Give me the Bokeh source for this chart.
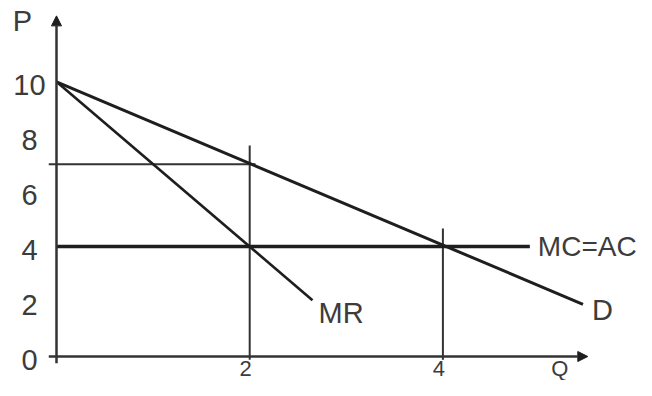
from bokeh.plotting import figure
from bokeh.models import Range1d, Arrow, NormalHead
from bokeh.core.properties import value
from bokeh.embed import file_html
from bokeh.resources import INLINE

# ---- data ----
y_ticks = [0, 2, 4, 6, 8, 10]
y_tick_labels = ["0", "2", "4", "6", "8", "10"]
x_ticks = [2, 4]
x_tick_labels = ["2", "4"]

demand_q = [0, 5.45]
demand_p = [10, 1.9]
mr_q = [0, 2.65]
mr_p = [10, 2.05]
mc_q = [0, 4.9]
mc_p = [4, 4]

monopoly_q = 2
monopoly_p = 7
competitive_q = 4
competitive_p = 4

# guide extents
guide_p7_q = [-0.08, 2.06]
guide_q2_p = [-0.12, 7.68]
guide_q4_p = [-0.12, 4.66]

x_axis_q = [-0.08, 5.5]
y_axis_p = [-0.25, 12.4]

curve_labels = ["MC=AC", "MR", "D"]

FONT = value("Liberation Sans")
TXT = "#3c3c3c"
INK = "#1e1e1e"

p = figure(width=636, height=380, output_backend="svg", toolbar_location=None,
           x_range=Range1d(-0.57971, 6.00414), y_range=Range1d(-0.87368, 12.9596),
           min_border=0, min_border_left=0, min_border_right=0,
           min_border_top=0, min_border_bottom=0)
p.axis.visible = False
p.grid.visible = False
p.outline_line_color = None
p.background_fill_color = "white"
p.border_fill_color = "white"

# axes with arrows
p.add_layout(Arrow(end=NormalHead(size=10, fill_color=INK, line_color=INK, line_width=1),
                   x_start=x_axis_q[0], y_start=0, x_end=x_axis_q[1], y_end=0,
                   line_color="#333333", line_width=2.5))
p.add_layout(Arrow(end=NormalHead(size=10, fill_color=INK, line_color=INK, line_width=1),
                   x_start=0, y_start=y_axis_p[0], x_end=0, y_end=y_axis_p[1],
                   line_color="#333333", line_width=2.5))

# guide lines
p.line(guide_p7_q, [monopoly_p, monopoly_p], line_color="#333333", line_width=2)
p.line([monopoly_q, monopoly_q], guide_q2_p, line_color="#333333", line_width=2)
p.line([competitive_q, competitive_q], guide_q4_p, line_color="#333333", line_width=2)

# curves
p.line(mc_q, mc_p, line_color=INK, line_width=3.5)
p.line(mr_q, mr_p, line_color=INK, line_width=2.6)
p.line(demand_q, demand_p, line_color=INK, line_width=3)

# tick labels
p.text(x=[0] * len(y_ticks), y=y_ticks, text=y_tick_labels, x_offset=-27, y_offset=3,
       text_align="center", text_baseline="middle", text_font=FONT,
       text_font_size="29px", text_color=TXT)
p.text(x=x_ticks, y=[0] * len(x_ticks), text=x_tick_labels, x_offset=-4, y_offset=12,
       text_align="center", text_baseline="middle", text_font=FONT,
       text_font_size="22px", text_color=TXT)

# axis names
p.text(x=[0], y=[y_axis_p[1]], text=["P"], x_offset=-34, y_offset=5,
       text_align="center", text_baseline="middle", text_font=FONT,
       text_font_size="29px", text_color=TXT)
p.text(x=[x_axis_q[1]], y=[0], text=["Q"], x_offset=-28, y_offset=12,
       text_align="center", text_baseline="middle", text_font=FONT,
       text_font_size="22px", text_color=TXT)

# curve labels
p.text(x=[mc_q[1], mr_q[1], demand_q[1]], y=[mc_p[1], mr_p[1], demand_p[1]],
       text=curve_labels, x_offset=[8, 6, 9], y_offset=[0, 13, 6],
       text_align="left", text_baseline="middle", text_font=FONT,
       text_font_size=["28px", "29px", "29px"], text_color=TXT)

open("out.html", "w").write(file_html(p, INLINE))
